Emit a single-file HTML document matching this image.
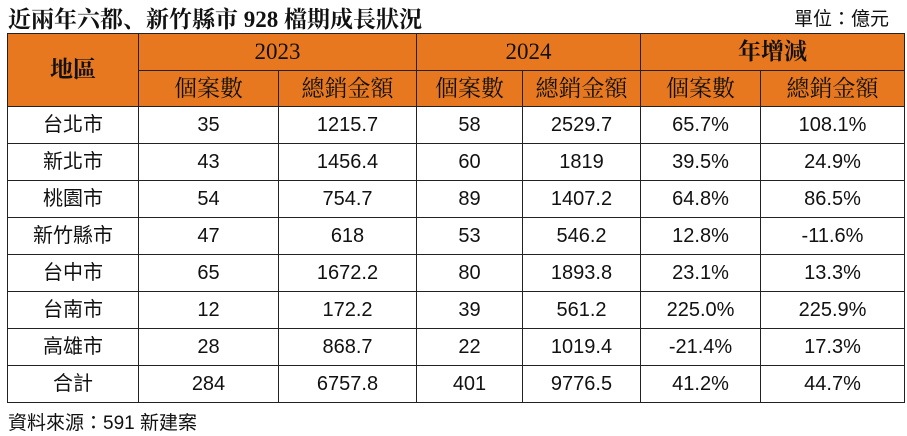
<!DOCTYPE html>
<html><head><meta charset="utf-8"><style>
body{margin:0;width:907px;height:436px;background:#fff;position:relative;overflow:hidden;font-family:"Liberation Sans","Noto Sans CJK TC",sans-serif;}
#title{position:absolute;left:8px;top:1px;font-size:23px;font-family:"Liberation Serif","Noto Serif CJK SC",serif;color:#111;font-weight:bold;}
#unit{position:absolute;right:18px;top:4px;font-size:19px;color:#111;}
#src{position:absolute;left:8px;top:408px;font-size:19px;color:#111;}
table{position:absolute;left:7px;top:33px;border-collapse:collapse;table-layout:fixed;}
td,th{border:1.5px solid #222;text-align:center;padding:0;font-size:20px;font-weight:normal;color:#111;line-height:24px;}
th{background:#e8781f;font-family:"Liberation Serif","Noto Serif CJK SC",serif;font-size:23px;}
</style></head><body>
<div id="title">近兩年六都、新竹縣市 928 檔期成長狀況</div>
<div id="unit">單位：億元</div>
<table>
<colgroup><col style="width:131px"><col style="width:140px"><col style="width:138px"><col style="width:106px"><col style="width:118px"><col style="width:120px"><col style="width:144px"></colgroup>
<tr style="height:37px"><th rowspan="2" style="font-weight:bold">地區</th><th colspan="2">2023</th><th colspan="2">2024</th><th colspan="2" style="font-weight:bold">年增減</th></tr>
<tr style="height:36px"><th>個案數</th><th>總銷金額</th><th>個案數</th><th>總銷金額</th><th>個案數</th><th>總銷金額</th></tr>
<tr style="height:37px"><td>台北市</td><td>35</td><td>1215.7</td><td>58</td><td>2529.7</td><td>65.7%</td><td>108.1%</td></tr>
<tr style="height:37px"><td>新北市</td><td>43</td><td>1456.4</td><td>60</td><td>1819</td><td>39.5%</td><td>24.9%</td></tr>
<tr style="height:37px"><td>桃園市</td><td>54</td><td>754.7</td><td>89</td><td>1407.2</td><td>64.8%</td><td>86.5%</td></tr>
<tr style="height:37px"><td>新竹縣市</td><td>47</td><td>618</td><td>53</td><td>546.2</td><td>12.8%</td><td>-11.6%</td></tr>
<tr style="height:37px"><td>台中市</td><td>65</td><td>1672.2</td><td>80</td><td>1893.8</td><td>23.1%</td><td>13.3%</td></tr>
<tr style="height:37px"><td>台南市</td><td>12</td><td>172.2</td><td>39</td><td>561.2</td><td>225.0%</td><td>225.9%</td></tr>
<tr style="height:37px"><td>高雄市</td><td>28</td><td>868.7</td><td>22</td><td>1019.4</td><td>-21.4%</td><td>17.3%</td></tr>
<tr style="height:37px"><td>合計</td><td>284</td><td>6757.8</td><td>401</td><td>9776.5</td><td>41.2%</td><td>44.7%</td></tr>
</table>
<div id="src">資料來源：591 新建案</div>
</body></html>
